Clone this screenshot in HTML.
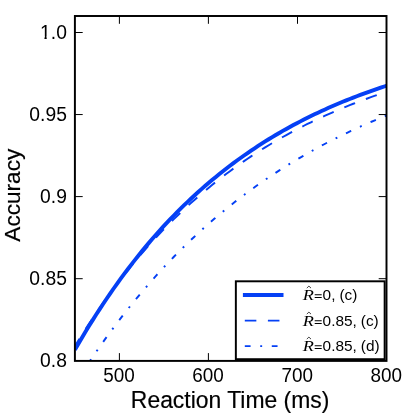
<!DOCTYPE html>
<html><head><meta charset="utf-8"><title>plot</title>
<style>
html,body{margin:0;padding:0;background:#fff;}
body{width:415px;height:415px;overflow:hidden;}
svg{display:block;will-change:transform;}
text{font-family:"Liberation Sans",sans-serif;fill:#000;}
.ty{font-size:19.3px;}
.tx{font-size:18.9px;}
.lb{font-size:22.2px;stroke:#000;stroke-width:0.18px;}
.lg{font-size:15.4px;word-spacing:-0.3px;}
.it{font-family:"Liberation Serif",serif;font-style:italic;font-size:14.6px;}
</style></head><body>
<svg width="415" height="415" viewBox="0 0 415 415">
<rect x="0" y="0" width="415" height="415" fill="#fff"/>
<defs><clipPath id="c"><rect x="74.9" y="16.0" width="311.6" height="344.9"/></clipPath></defs>
<g clip-path="url(#c)" fill="none" stroke="#0540f5">
<path d="M74.90,349.86 L78.42,343.73 L81.95,337.72 L85.47,331.83 L88.99,326.05 L92.52,320.37 L96.04,314.81 L99.57,309.35 L103.09,303.99 L106.61,298.73 L110.14,293.57 L113.66,288.51 L117.18,283.55 L120.71,278.68 L124.23,273.90 L127.75,269.21 L131.28,264.61 L134.80,260.10 L138.32,255.67 L141.85,251.33 L145.37,247.07 L148.90,242.88 L152.42,238.78 L155.94,234.76 L159.47,230.81 L162.99,226.93 L166.51,223.13 L170.04,219.40 L173.56,215.75 L177.08,212.16 L180.61,208.63 L184.13,205.18 L187.66,201.79 L191.18,198.46 L194.70,195.20 L198.23,192.00 L201.75,188.86 L205.27,185.78 L208.80,182.75 L212.32,179.79 L215.84,176.88 L219.37,174.02 L222.89,171.22 L226.41,168.47 L229.94,165.77 L233.46,163.13 L236.99,160.53 L240.51,157.99 L244.03,155.49 L247.56,153.04 L251.08,150.63 L254.60,148.27 L258.13,145.96 L261.65,143.69 L265.17,141.46 L268.70,139.27 L272.22,137.13 L275.74,135.02 L279.27,132.96 L282.79,130.93 L286.32,128.95 L289.84,127.00 L293.36,125.08 L296.89,123.21 L300.41,121.37 L303.93,119.56 L307.46,117.79 L310.98,116.05 L314.50,114.34 L318.03,112.67 L321.55,111.03 L325.08,109.41 L328.60,107.83 L332.12,106.28 L335.65,104.76 L339.17,103.27 L342.69,101.80 L346.22,100.37 L349.74,98.96 L353.26,97.57 L356.79,96.22 L360.31,94.89 L363.83,93.58 L367.36,92.30 L370.88,91.04 L374.41,89.81 L377.93,88.60 L381.45,87.41 L384.98,86.25 L388.50,85.10" stroke-width="3.9"/>
<path d="M74.90,346.13 L78.42,340.41 L81.95,334.80 L85.47,329.28 L88.99,323.87 L92.52,318.55 L96.04,313.33 L99.57,308.20 L103.09,303.16 L106.61,298.21 L110.14,293.36 L113.66,288.58 L117.18,283.90 L120.71,279.30 L124.23,274.78 L127.75,270.34 L131.28,265.99 L134.80,261.71 L138.32,257.51 L141.85,253.38 L145.37,249.33 L148.90,245.35 L152.42,241.44 L155.94,237.60 L159.47,233.83 L162.99,230.13 L166.51,226.49 L170.04,222.92 L173.56,219.42 L177.08,215.97 L180.61,212.59 L184.13,209.27 L187.66,206.01 L191.18,202.81 L194.70,199.66 L198.23,196.58 L201.75,193.54 L205.27,190.57 L208.80,187.64 L212.32,184.77 L215.84,181.95 L219.37,179.18 L222.89,176.46 L226.41,173.79 L229.94,171.16 L233.46,168.59 L236.99,166.06 L240.51,163.57 L244.03,161.13 L247.56,158.73 L251.08,156.38 L254.60,154.07 L258.13,151.80 L261.65,149.57 L265.17,147.38 L268.70,145.23 L272.22,143.12 L275.74,141.05 L279.27,139.01 L282.79,137.01 L286.32,135.05 L289.84,133.12 L293.36,131.23 L296.89,129.37 L300.41,127.54 L303.93,125.75 L307.46,123.99 L310.98,122.26 L314.50,120.56 L318.03,118.89 L321.55,117.26 L325.08,115.65 L328.60,114.07 L332.12,112.52 L335.65,110.99 L339.17,109.50 L342.69,108.03 L346.22,106.59 L349.74,105.17 L353.26,103.78 L356.79,102.41 L360.31,101.07 L363.83,99.75 L367.36,98.46 L370.88,97.19 L374.41,95.94 L377.93,94.71 L381.45,93.51 L384.98,92.33 L388.50,91.17" stroke-width="1.95" stroke-dasharray="11.55 11.55" stroke-dashoffset="3"/>
<path d="M85.00,368.40 L88.41,363.26 L91.82,358.20 L95.23,353.21 L98.64,348.30 L102.05,343.46 L105.46,338.69 L108.87,333.99 L112.28,329.37 L115.69,324.81 L119.10,320.32 L122.51,315.90 L125.92,311.55 L129.33,307.26 L132.74,303.04 L136.15,298.87 L139.56,294.77 L142.97,290.74 L146.38,286.76 L149.79,282.84 L153.20,278.98 L156.61,275.18 L160.02,271.43 L163.43,267.75 L166.84,264.11 L170.25,260.53 L173.66,257.01 L177.07,253.54 L180.48,250.11 L183.89,246.75 L187.30,243.43 L190.71,240.16 L194.12,236.94 L197.53,233.76 L200.94,230.64 L204.35,227.56 L207.76,224.53 L211.17,221.54 L214.58,218.60 L217.99,215.70 L221.40,212.85 L224.81,210.04 L228.22,207.27 L231.63,204.54 L235.04,201.85 L238.46,199.21 L241.87,196.60 L245.28,194.03 L248.69,191.50 L252.10,189.01 L255.51,186.55 L258.92,184.14 L262.33,181.76 L265.74,179.41 L269.15,177.10 L272.56,174.82 L275.97,172.58 L279.38,170.37 L282.79,168.20 L286.20,166.05 L289.61,163.94 L293.02,161.86 L296.43,159.81 L299.84,157.80 L303.25,155.81 L306.66,153.85 L310.07,151.92 L313.48,150.02 L316.89,148.15 L320.30,146.31 L323.71,144.49 L327.12,142.71 L330.53,140.94 L333.94,139.21 L337.35,137.50 L340.76,135.82 L344.17,134.16 L347.58,132.52 L350.99,130.92 L354.40,129.33 L357.81,127.77 L361.22,126.23 L364.63,124.72 L368.04,123.23 L371.45,121.76 L374.86,120.31 L378.27,118.88 L381.68,117.48 L385.09,116.09 L388.50,114.73" stroke-width="1.95" stroke-dasharray="5.78 9.63 1.93 9.63" stroke-dashoffset="21.74"/>
</g>
<rect x="74.9" y="16.0" width="311.6" height="344.9" fill="none" stroke="#000" stroke-width="1.95"/>
<g stroke="#000" stroke-width="1" fill="none">
<path d="M74.9,32.5 h7.8 M386.5,32.5 h-7.8"/>
<path d="M74.9,114.55 h7.8 M386.5,114.55 h-7.8"/>
<path d="M74.9,196.6 h7.8 M386.5,196.6 h-7.8"/>
<path d="M74.9,278.7 h7.8 M386.5,278.7 h-7.8"/>
<path d="M119.4,360.9 v-7.8 M119.4,16.0 v7.8"/>
<path d="M208.4,360.9 v-7.8 M208.4,16.0 v7.8"/>
<path d="M297.5,360.9 v-7.8 M297.5,16.0 v7.8"/>
</g>
<text class="ty" transform="translate(66.9,39.4) scale(1,1.045)" text-anchor="end">1.0</text>
<text class="ty" transform="translate(66.9,121.35) scale(1,1.045)" text-anchor="end">0.95</text>
<text class="ty" transform="translate(66.9,203.3) scale(1,1.045)" text-anchor="end">0.9</text>
<text class="ty" transform="translate(66.9,285.3) scale(1,1.045)" text-anchor="end">0.85</text>
<text class="ty" transform="translate(66.9,367.2) scale(1,1.045)" text-anchor="end">0.8</text>
<text class="tx" transform="translate(119.1,381.8) scale(1,1.05)" text-anchor="middle">500</text>
<text class="tx" transform="translate(208.1,381.8) scale(1,1.05)" text-anchor="middle">600</text>
<text class="tx" transform="translate(297.2,381.8) scale(1,1.05)" text-anchor="middle">700</text>
<text class="tx" transform="translate(386.2,381.8) scale(1,1.05)" text-anchor="middle">800</text>
<path d="M39.5,36.3 h4.95 v4.2 h-4.95 z M46.7,36.3 h3.9 v4.2 h-3.9 z" fill="#fff"/>
<text class="lb" transform="translate(230.1,407.6) scale(1.032,1.04)" text-anchor="middle">Reaction Time (ms)</text>
<text class="lb" transform="translate(19.8,195.2) rotate(-90) scale(1.018,1.032)" text-anchor="middle">Accuracy</text>
<rect x="235.85" y="281.3" width="148.80" height="77.90" fill="#fff" stroke="#000" stroke-width="1.95"/>
<g stroke="#0540f5" fill="none"><path d="M242.9,295.05 H283.5" stroke-width="3.9"/><path d="M244.8,320.6 H281.6" stroke-width="1.95" stroke-dasharray="11.55 11.55"/><path d="M244.8,346.1 H281.6" stroke-width="1.95" stroke-dasharray="5.78 9.63 1.93 9.63"/></g>
<text class="it" transform="translate(302.7,300) scale(1.25,1)">R</text>
<path d="M306.8,288.1 l2.1,-2.0 l2.1,2.0" fill="none" stroke="#000" stroke-width="0.75"/>
<path d="M314.7,294.7 h7 M314.7,297.5 h7" fill="none" stroke="#000" stroke-width="1.15"/>
<text class="lg" x="322.6" y="300">0, (c)</text>
<text class="it" transform="translate(302.7,326) scale(1.25,1)">R</text>
<path d="M306.8,314.1 l2.1,-2.0 l2.1,2.0" fill="none" stroke="#000" stroke-width="0.75"/>
<path d="M314.7,320.7 h7 M314.7,323.5 h7" fill="none" stroke="#000" stroke-width="1.15"/>
<text class="lg" x="322.6" y="326">0.85, (c)</text>
<text class="it" transform="translate(302.7,351) scale(1.25,1)">R</text>
<path d="M306.8,339.1 l2.1,-2.0 l2.1,2.0" fill="none" stroke="#000" stroke-width="0.75"/>
<path d="M314.7,345.7 h7 M314.7,348.5 h7" fill="none" stroke="#000" stroke-width="1.15"/>
<text class="lg" x="322.6" y="351">0.85, (d)</text>
</svg></body></html>
